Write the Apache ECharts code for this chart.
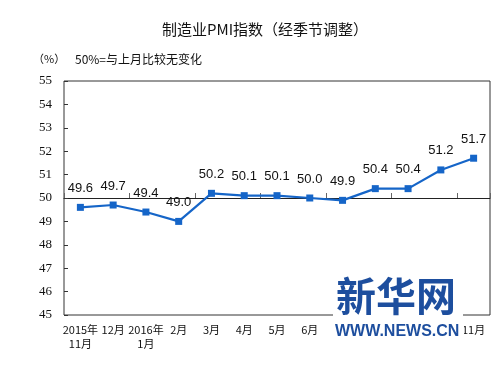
<!DOCTYPE html>
<html><head><meta charset="utf-8">
<script src="https://cdn.jsdelivr.net/npm/echarts@6/dist/echarts.min.js"></script>
<style>html,body{margin:0;padding:0;background:#fff}#c{width:497px;height:367px}</style>
</head><body><div id="c"></div>
<script>
var categories = ['2015年\n11月','12月','2016年\n1月','2月','3月','4月','5月','6月','7月','8月','9月','10月','11月'];
var values = [49.6,49.7,49.4,49.0,50.2,50.1,50.1,50.0,49.9,50.4,50.4,51.2,51.7];
var yTicks = {min:45, max:55, interval:1};
var chart = echarts.init(document.getElementById('c'));
chart.setOption({
  animation:false,
  backgroundColor:'#fff',
  title:{text:'制造业PMI指数（经季节调整）', left:260, top:17, textAlign:'center',
    textStyle:{fontFamily:'Noto Sans CJK SC', fontSize:15, fontWeight:'normal', color:'#111'}},
  grid:{left:64, right:7, top:81, bottom:52, show:true, borderColor:'#333', borderWidth:1},
  xAxis:[{type:'category', data:categories, position:'bottom',
      axisLine:{show:false}, axisTick:{show:false},
      axisLabel:{fontFamily:'Noto Sans CJK SC', fontSize:11, color:'#111', margin:8, interval:0, lineHeight:14}},
    {type:'category', data:categories, position:'top', offset:-117,
      axisLine:{show:true, lineStyle:{color:'#222', width:1}},
      axisTick:{show:true, length:5, lineStyle:{color:'#666'}},
      axisLabel:{show:false}}],
  yAxis:{type:'value', min:yTicks.min, max:yTicks.max, interval:yTicks.interval,
    axisLine:{show:false}, splitLine:{show:false},
    axisTick:{show:true, inside:true, length:4, lineStyle:{color:'#333'}},
    axisLabel:{fontFamily:'Liberation Serif', fontSize:13, color:'#111', margin:12}},
  series:[{type:'line', data:values, xAxisIndex:0,
    symbol:'rect', symbolSize:7, showAllSymbol:true,
    lineStyle:{color:'#1565c8', width:2.2}, itemStyle:{color:'#1565c8'},
    label:{show:true, position:'top', distance:9, fontFamily:'Liberation Sans', fontSize:13, color:'#111',
      formatter:function(p){return p.value.toFixed(1);}}}],
  graphic:[
    {type:'text', z:100, left:33, top:53, style:{text:'（%）', fontFamily:'Noto Sans CJK SC', fontSize:11, fill:'#111'}},
    {type:'text', z:100, left:75, top:53, style:{text:'50%=与上月比较无变化', fontFamily:'Noto Sans CJK SC', fontSize:12, fill:'#111'}},
    {type:'rect', z:100, shape:{x:333, y:281, width:130, height:36}, style:{fill:'#fff'}},
    {type:'text', z:101, left:336, top:276, style:{text:'新华网', fontFamily:'Noto Sans CJK SC', fontSize:40, fontWeight:'bold', fill:'#1d4e9e'}},
    {type:'rect', z:100, shape:{x:328, y:321, width:136, height:22}, style:{fill:'#fff'}},
    {type:'text', z:101, left:335, top:324, style:{text:'WWW.NEWS.CN', fontFamily:'Liberation Sans', fontSize:16, fontWeight:'bold', fill:'#1d4e9e'}}
  ]
});
</script></body></html>
